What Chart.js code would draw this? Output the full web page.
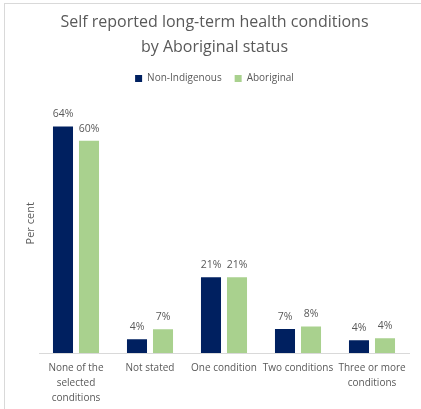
<!DOCTYPE html>
<html>
<head>
<meta charset="utf-8">
<script src="https://cdn.jsdelivr.net/npm/chart.js@4/dist/chart.umd.min.js"></script>
<style>
  html, body { margin: 0; padding: 0; background: #fff; overflow: hidden; }
  #wrap { position: relative; width: 421px; height: 409px; }
  #frame { position: absolute; left: 4px; top: 3px; width: 430px; height: 420px; border: 1px solid #d9d9d9; box-sizing: border-box; }
  canvas { position: absolute; left: 0; top: 0; }
</style>
</head>
<body>
<div id="wrap">
  <div id="frame"></div>
  <canvas id="chart" width="421" height="409"></canvas>
</div>
<script>
// === DATA ===
const categories = [
    ["None of the", "selected", "conditions"],
    "Not stated",
    "One condition",
    "Two conditions",
    ["Three or more", "conditions"]
];
const nonIndigenous = [64.0, 3.9, 21.4, 6.8, 3.6];
const aboriginal = [60.0, 6.7, 21.4, 7.5, 4.2];

const grey = '#595959';
const fontFamily = "'Open Sans', 'Noto Sans', sans-serif";

// draws the % labels above each bar
const barLabels = {
    id: 'barLabels',
    afterDatasetsDraw(chart) {
        const ctx = chart.ctx;
        ctx.save();
        ctx.font = '10.5px ' + fontFamily;
        ctx.fillStyle = grey;
        ctx.textAlign = 'center';
        ctx.textBaseline = 'middle';
        chart.data.datasets.forEach((ds, i) => {
            chart.getDatasetMeta(i).data.forEach((bar, j) => {
                ctx.fillText(Math.round(ds.data[j]) + '%', bar.x, bar.y - 12);
            });
        });
        ctx.restore();
    }
};

const ctx = document.getElementById('chart').getContext('2d');
new Chart(ctx, {
    type: 'bar',
    data: {
        labels: categories,
        datasets: [{
            label: 'Non-Indigenous',
            data: nonIndigenous,
            backgroundColor: '#002060'
        }, {
            label: 'Aboriginal',
            data: aboriginal,
            backgroundColor: '#A9D18E'
        }]
    },
    options: {
        responsive: false,
        animation: false,
        categoryPercentage: 0.703,
        barPercentage: 0.77,
        layout: { padding: { left: 20, right: 12, top: 10, bottom: -5 } },
        plugins: {
            title: {
                display: true,
                text: ['Self reported long-term health conditions', 'by Aboriginal status'],
                color: grey,
                font: { family: fontFamily, size: 16, weight: 'normal', lineHeight: 1.55 },
                padding: { top: 0, bottom: 1 }
            },
            legend: {
                labels: {
                    color: grey,
                    font: { family: fontFamily, size: 10 },
                    boxWidth: 7,
                    boxHeight: 7,
                    padding: 13
                }
            },
            tooltip: { enabled: false }
        },
        scales: {
            x: {
                grid: { display: false, drawTicks: false },
                border: { display: true, color: '#d9d9d9' },
                ticks: {
                    color: grey,
                    font: { family: fontFamily, size: 10, lineHeight: 1.5 },
                    maxRotation: 0,
                    autoSkip: false,
                    padding: 8
                }
            },
            y: {
                min: 0,
                max: 73.3,
                grid: { display: false },
                border: { display: false },
                ticks: { display: false },
                title: {
                    display: true,
                    text: 'Per cent',
                    color: grey,
                    font: { family: fontFamily, size: 11 },
                    padding: { top: 4, bottom: 4 }
                },
                afterFit(scale) { scale.width = 19; }
            }
        }
    },
    plugins: [barLabels]
});
</script>
</body>
</html>
